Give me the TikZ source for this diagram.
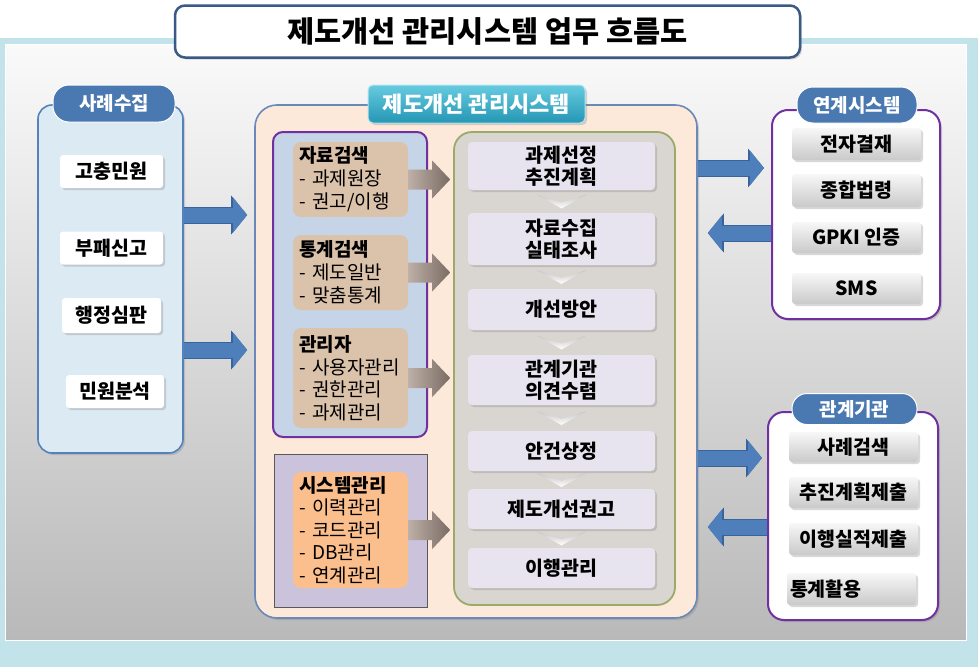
\documentclass[tikz,border=0pt]{standalone}
\usepackage{fontspec}
\setmainfont{Noto Sans CJK KR}
\usepackage{tikz}
\usetikzlibrary{arrows.meta, positioning, calc, shadows}

\definecolor{frameCyan}{HTML}{C2E3E9}
\definecolor{pillBlue}{HTML}{4A78B0}
\definecolor{caseBlue}{HTML}{5682B9}
\definecolor{caseFill}{HTML}{DCEAF3}
\definecolor{arrowBlue}{HTML}{4F7FBA}
\definecolor{arrowDark}{HTML}{37649C}
\definecolor{peach}{HTML}{FDE9DA}
\definecolor{sysBorder}{HTML}{6A88B8}
\definecolor{cyanTop}{HTML}{66CBE0}
\definecolor{cyanBot}{HTML}{2596B4}
\definecolor{searchFill}{HTML}{C6D4E7}
\definecolor{violet}{HTML}{7030A0}
\definecolor{tan}{HTML}{DBC2AA}
\definecolor{admFill}{HTML}{CBC3DC}
\definecolor{orange}{HTML}{FBBF8D}
\definecolor{flowFill}{HTML}{D9D5D1}
\definecolor{olive}{HTML}{9AAA6A}
\definecolor{stepFill}{HTML}{E7E4EF}
\definecolor{brownTip}{HTML}{7A6B63}
\definecolor{brownTail}{HTML}{BDB0A7}
\definecolor{titleBorder}{HTML}{3A5A85}

\begin{document}
\begin{tikzpicture}[x=1pt, y=-1pt,
    shadowed/.style={drop shadow={shadow xshift=2pt, shadow yshift=-2pt, opacity=0.3}},
    panel/.style={rounded corners=14pt, line width=1.6pt},
    pill/.style={fill=pillBlue, draw=white, line width=1pt, rounded corners=16pt, text=white,
        minimum height=34pt, inner sep=0pt, font=\bfseries\fontsize{19}{21}\selectfont},
    caseitem/.style={fill=white, rounded corners=3pt, shadowed, minimum height=33pt, inner sep=0pt,
        font=\bfseries\fontsize{19.5}{21}\selectfont},
    tanbox/.style={fill=tan, rounded corners=8pt, text width=102pt, inner xsep=6.5pt, inner ysep=0pt,
        align=left, minimum width=115pt, font=\fontsize{19}{23}\selectfont},
    flowbox/.style={fill=stepFill, rounded corners=4pt, shadowed, minimum width=187pt, inner sep=0pt,
        align=center, font=\bfseries\fontsize{19.5}{22.5}\selectfont},
    sysitem/.style={top color=gray!6, bottom color=gray!42, rounded corners=3pt, shadowed,
        minimum width=129pt, minimum height=31pt, inner sep=0pt, font=\bfseries\fontsize{19.5}{21}\selectfont},
    fat/.style={draw=arrowBlue, line width=15pt, -{Triangle[width=34pt,length=14pt]},
        preaction={draw=arrowDark, line width=17pt, -{Triangle[width=38pt,length=16pt]}}}]

    \useasboundingbox (0,0) rectangle (978,667);
    \fill[frameCyan] (0,38) rectangle (978,667);
    \shade[top color=white!96!gray, bottom color=gray!55, draw=white, line width=1pt] (5,44) rectangle (966,640);

    \node[draw=titleBorder, line width=2.5pt, fill=white, rounded corners=10pt, shadowed,
        minimum width=625pt, minimum height=52pt,
        font=\bfseries\fontsize{29.5}{31}\selectfont] (title) at (487.5,31.5) {제도개선 관리시스템 업무 흐름도};

    % 사례수집
    \node[panel, draw=caseBlue, fill=caseFill, shadowed, minimum width=145pt, minimum height=348pt] (case) at (110.5,279) {};
    \node[pill, minimum width=122pt, minimum height=37pt] (caselbl) at (114,103.5) {사례수집};
    \node[caseitem, minimum width=103pt] (c1) at (111.5,171.5) {고충민원};
    \node[caseitem, minimum width=103pt] (c2) at (111.5,248) {부패신고};
    \node[caseitem, minimum width=99pt, minimum height=35pt] (c3) at (111.5,315.5) {행정심판};
    \node[caseitem, minimum width=98pt] (c4) at (115,391.5) {민원분석};

    % 제도개선 관리시스템
    \node[panel, draw=sysBorder, fill=peach, rounded corners=22pt, shadowed,
        minimum width=442pt, minimum height=513pt] (sys) at (476,361.5) {};
    \node[top color=cyanTop, bottom color=cyanBot, draw=cyanTop!50, line width=1pt, rounded corners=5pt, shadowed,
        minimum width=217pt, minimum height=38pt, text=white,
        font=\bfseries\fontsize{22}{24}\selectfont] (syslbl) at (476.5,104) {제도개선 관리시스템};

    \node[draw=violet, line width=2pt, fill=searchFill, rounded corners=10pt,
        minimum width=154pt, minimum height=305pt] (srch) at (350,284.5) {};
    \node[tanbox, minimum height=75pt] (t1) at (350.5,179.5) {\textbf{자료검색}\\- 과제원장\\- 권고/이행};
    \node[tanbox, minimum height=75pt] (t2) at (350.5,272.5) {\textbf{통계검색}\\- 제도일반\\- 맞춤통계};
    \node[tanbox, minimum height=100pt, font=\fontsize{19}{22.5}\selectfont] (t3) at (350.5,378) {\textbf{관리자}\\- 사용자관리\\- 권한관리\\- 과제관리};

    \node[draw=gray!70!black, line width=0.8pt, fill=admFill, minimum width=153pt, minimum height=153pt] (adm) at (350.5,530.5) {};
    \node[tanbox, fill=orange, minimum height=116pt, font=\fontsize{19}{22.5}\selectfont] (t4) at (350.5,530)
        {\textbf{시스템관리}\\- 이력관리\\- 코드관리\\- DB관리\\- 연계관리};

    \node[draw=olive, line width=1.8pt, fill=flowFill, rounded corners=18pt,
        minimum width=221pt, minimum height=473pt] (flow) at (564.5,368.5) {};
    \node[flowbox, minimum height=48pt] (f1) at (561.5,166) {과제선정\\추진계획};
    \node[flowbox, minimum height=52pt] (f2) at (561.5,239) {자료수집\\실태조사};
    \node[flowbox, minimum height=41pt] (f3) at (561.5,309.5) {개선방안};
    \node[flowbox, minimum height=50pt] (f4) at (561.5,380) {관계기관\\의견수렴};
    \node[flowbox, minimum height=40pt] (f5) at (561.5,451) {안건상정};
    \node[flowbox, minimum height=40pt] (f6) at (561.5,509) {제도개선권고};
    \node[flowbox, minimum height=40pt] (f7) at (561.5,568) {이행관리};

    \foreach \a/\b in {f1/f2, f2/f3, f3/f4, f4/f5, f5/f6, f6/f7}
        \shade[top color=gray!45, middle color=white!85!gray, bottom color=white] ($(\a.south)!0.5!(\b.north)$)
            ++(-25,-7) -- ++(25,8) -- ++(25,-8) -- ++(-25,14) -- cycle;

    \foreach \s in {t1, t2, t3, t4}
        \shade[left color=brownTail, right color=brownTip] (\s.east)
            ++(0,-10) -- ++(24,0) -- ++(0,-9) -- ++(18,19) -- ++(-18,19) -- ++(0,-9) -- ++(-24,0) -- cycle;

    % 연계시스템
    \node[panel, draw=violet, line width=2pt, fill=white, rounded corners=16pt, shadowed,
        minimum width=168pt, minimum height=209pt] (link) at (856,214.5) {};
    \node[pill, minimum width=120pt, minimum height=36pt] (linklbl) at (857,105) {연계시스템};
    \node[sysitem, minimum height=32pt] (l1) at (856.5,144) {전자결재};
    \node[sysitem, minimum height=33pt] (l2) at (856.5,190.5) {종합법령};
    \node[sysitem] (l3) at (856.5,237.5) {GPKI 인증};
    \node[sysitem] (l4) at (856.5,288.5) {SMS};

    % 관계기관
    \node[panel, draw=violet, line width=2pt, fill=white, rounded corners=16pt, shadowed,
        minimum width=170pt, minimum height=208pt] (org) at (853,516) {};
    \node[pill, minimum width=125pt, minimum height=31pt, rounded corners=15pt] (orglbl) at (854.5,409) {관계기관};
    \node[sysitem, minimum height=30pt] (o1) at (853.5,447) {사례검색};
    \node[sysitem] (o2) at (853.5,492.5) {추진계획제출};
    \node[sysitem, minimum height=32pt] (o3) at (853.5,539) {이행실적제출};
    \node[sysitem, minimum height=32pt, text width=123pt, inner xsep=3pt, align=left] (o4) at (851.5,589) {통계활용};

    \draw[fat, shorten >=7pt] ($(case.east)+(0,-64)$) coordinate (a1) -- (sys.west |- a1);
    \draw[fat, shorten >=7pt] ($(case.east)+(0,71)$) coordinate (a2) -- (sys.west |- a2);
    \draw[fat, shorten >=7pt] ($(sys.east)+(0,-193.5)$) coordinate (b1) -- (link.west |- b1);
    \draw[fat, shorten >=10pt] ($(link.west)+(0,18.5)$) coordinate (b2) -- (sys.east |- b2);
    \draw[fat, shorten >=5pt] ($(sys.east)+(0,96.5)$) coordinate (b3) -- (org.west |- b3);
    \draw[fat, shorten >=10pt] ($(org.west)+(0,11)$) coordinate (b4) -- (sys.east |- b4);
\end{tikzpicture}
\end{document}
